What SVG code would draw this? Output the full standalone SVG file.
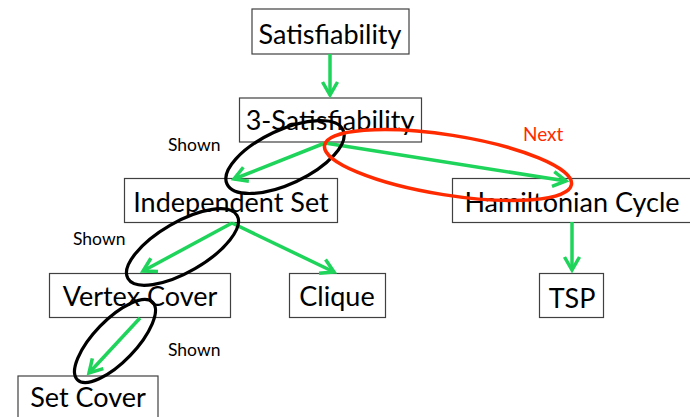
<svg xmlns="http://www.w3.org/2000/svg" width="690" height="417" viewBox="0 0 690 417">
<style>
.box{fill:#fff;stroke:#404040;stroke-width:1.2}
.lbl{font-family:Lato,"Open Sans",sans-serif;font-size:27px;fill:#000;text-anchor:middle}
.sm{font-family:Lato,"Open Sans",sans-serif;font-size:17.5px;fill:#000}
.next{font-family:Lato,"Open Sans",sans-serif;font-size:19px;fill:#ff2a00}
.edge{stroke:#1ed45a;stroke-width:3.5;fill:none;marker-end:url(#ah)}
.oval{fill:none;stroke:#000;stroke-width:3.2}
.roval{fill:none;stroke:#ff2a00;stroke-width:3.5}
</style>
<defs>
<marker id="ah" markerUnits="userSpaceOnUse" markerWidth="30" markerHeight="30" refX="15" refY="15" viewBox="0 0 30 30" orient="auto" overflow="visible">
<path d="M2,7.5 L15,15 L2,22.5" fill="none" stroke="#1ed45a" stroke-width="3.5" stroke-linejoin="miter"/>
</marker>
</defs>
<g id="n-sat"><rect class="box" x="252" y="9" width="157" height="45"/><text class="lbl" x="330" y="44">Satisfiability</text></g>
<g id="n-3sat"><rect class="box" x="239.5" y="98" width="182" height="44"/><text class="lbl" x="330" y="130">3-Satisfiability</text></g>
<g id="n-is"><rect class="box" x="124.5" y="178.5" width="213" height="44"/><text class="lbl" x="231" y="212">Independent Set</text></g>
<g id="n-ham"><rect class="box" x="452.5" y="178.5" width="240" height="44"/><text class="lbl" x="572" y="212">Hamiltonian Cycle</text></g>
<g id="n-tsp"><rect class="box" x="539.5" y="273.5" width="64" height="44"/><text class="lbl" x="572" y="308">TSP</text></g>
<g id="n-vc"><rect class="box" x="49.5" y="273.5" width="181" height="44"/><text class="lbl" x="140" y="306">Vertex Cover</text></g>
<g id="n-clique"><rect class="box" x="289.5" y="273.5" width="96" height="44"/><text class="lbl" x="337" y="306">Clique</text></g>
<g id="n-sc"><rect class="box" x="18" y="376" width="140" height="50"/><text class="lbl" x="88" y="407">Set Cover</text></g>
<g id="connectors">
<line class="edge" x1="330" y1="54" x2="330" y2="95"/>
<line class="edge" x1="325" y1="143" x2="234" y2="179"/>
<line class="edge" x1="325" y1="143" x2="566" y2="181"/>
<line class="edge" x1="232" y1="223" x2="143" y2="271"/>
<line class="edge" x1="232" y1="223" x2="334" y2="272"/>
<line class="edge" x1="140" y1="318" x2="89" y2="373"/>
<line class="edge" x1="572" y1="222" x2="572" y2="270"/>
</g>
<g id="annotations">
<ellipse class="oval" cx="285" cy="157" rx="64" ry="27" transform="rotate(-25 285 157)"/>
<ellipse class="roval" cx="448" cy="165" rx="125" ry="30" transform="rotate(9 448 165)"/>
<ellipse class="oval" cx="182.5" cy="247" rx="63" ry="25" transform="rotate(-30 182.5 247)"/>
<ellipse class="oval" cx="115" cy="341" rx="54" ry="21" transform="rotate(-46 115 341)"/>
<text class="sm" x="168" y="151">Shown</text>
<text class="sm" x="73" y="245">Shown</text>
<text class="sm" x="168" y="356">Shown</text>
<text class="next" x="523" y="141">Next</text>
</g>
</svg>
